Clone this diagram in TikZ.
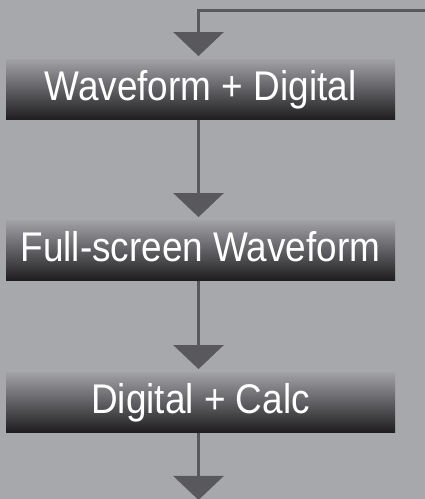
\documentclass[tikz,border=0pt]{standalone}
\usepackage{fontspec}
\setmainfont{Liberation Sans}
\newfontfamily\boxfont[FakeStretch=0.89]{Liberation Sans}
\usetikzlibrary{arrows.meta}
\definecolor{bg}{RGB}{167,168,172}
\definecolor{ln}{RGB}{89,89,93}
\definecolor{btop}{RGB}{162,162,166}
\definecolor{bmid}{RGB}{95,95,99}
\definecolor{bbot}{RGB}{30,28,30}
\begin{document}
\begin{tikzpicture}[x=1pt,y=1pt,
  modebox/.style={minimum width=389pt, minimum height=60.5pt, inner sep=0pt,
    top color=btop, bottom color=bbot, middle color=bmid, text=white,
    font=\boxfont\fontsize{41.5}{44}\selectfont, text height=29.5pt, text depth=7pt},
  flow/.style={draw=ln, line width=3pt, line join=miter,
    -{Triangle[width=50pt,length=24pt]}, shorten >=3pt}]
\fill[bg] (0,0) rectangle (425,499);
\useasboundingbox (0,0) rectangle (425,499);
\node[modebox] (b1) at (200.5,409.5) {Waveform + Digital};
\node[modebox] (b2) at (200.5,248.5) {Full-screen Waveform};
\node[modebox] (b3) at (200.5,96.5) {Digital + Calc};
\coordinate (in) at (426,488);
\coordinate (turn) at (198.5,488);
\coordinate (out) at (198.5,-1);
\draw[flow] (in) -- (turn) -- (turn |- b1.north);
\draw[flow] (b1.south -| turn) -- (b2.north -| turn);
\draw[flow] (b2.south -| turn) -- (b3.north -| turn);
\draw[flow, shorten >=0pt] (b3.south -| turn) -- (out);
\end{tikzpicture}
\end{document}
